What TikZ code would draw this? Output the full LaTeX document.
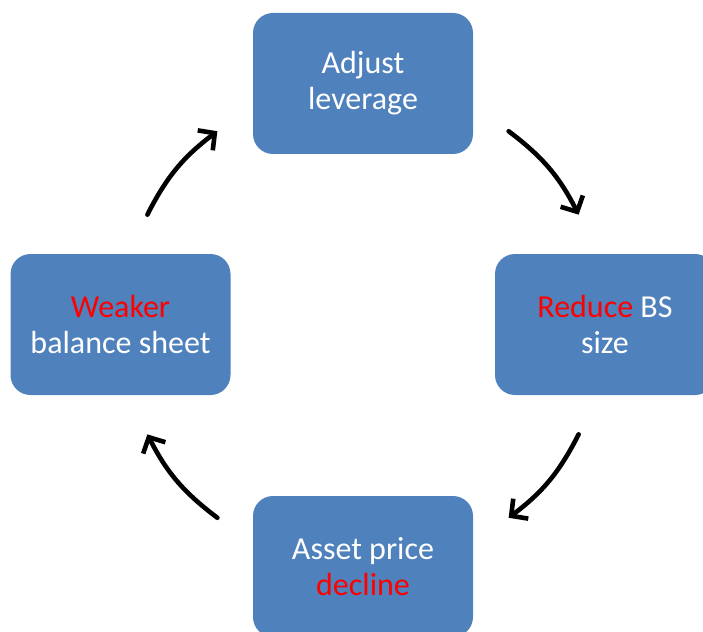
\documentclass[tikz,border=0pt]{standalone}
\usepackage{fontspec}
\setmainfont{Carlito}
\usetikzlibrary{arrows.meta}
\definecolor{boxblue}{HTML}{4F81BD}
\definecolor{hotred}{HTML}{FF0000}
\tikzset{
  stagebox/.style={fill=boxblue, draw=none, rounded corners=20pt,
    minimum width=220pt, minimum height=141pt, text=white, align=center,
    font=\fontsize{32}{36}\selectfont},
  cyclearrow/.style={line width=4.6pt, line cap=round,
    -{Straight Barb[length=12pt, width=25pt, line width=4.6pt]}}
}
\begin{document}
\begin{tikzpicture}[x=1pt, y=-1pt]
  \clip (0,0) rectangle (703,631);
  \fill[white] (0,0) rectangle (703,631);

  % the four stages of the cycle
  \node[stagebox] (adjust) at (363,83.5) {Adjust\\leverage};
  \node[stagebox] (reduce) at (605,324.5) {\textcolor{hotred}{Reduce} BS\\size};
  \node[stagebox] (decline) at (363,566.5) {Asset price\\\textcolor{hotred}{decline}};
  \node[stagebox] (weaker) at (120.5,324.5) {\textcolor{hotred}{Weaker}\\balance sheet};

  % arc end points around the cycle centre
  \coordinate (c) at (363,324.5);
  \path (c) ++(-53:242) coordinate (a1);
  \path (c) ++(-27:242) coordinate (a2);
  \path (c) ++(27:242) coordinate (b1);
  \path (c) ++(53:242) coordinate (b2);
  \path (c) ++(127:242) coordinate (d1);
  \path (c) ++(153:242) coordinate (d2);
  \path (c) ++(-153:242) coordinate (e1);
  \path (c) ++(-127:242) coordinate (e2);

  \draw[cyclearrow] (a1) to[bend left=13] (a2);
  \draw[cyclearrow] (b1) to[bend left=13] (b2);
  \draw[cyclearrow] (d1) to[bend left=13] (d2);
  \draw[cyclearrow] (e1) to[bend left=13] (e2);
\end{tikzpicture}
\end{document}
